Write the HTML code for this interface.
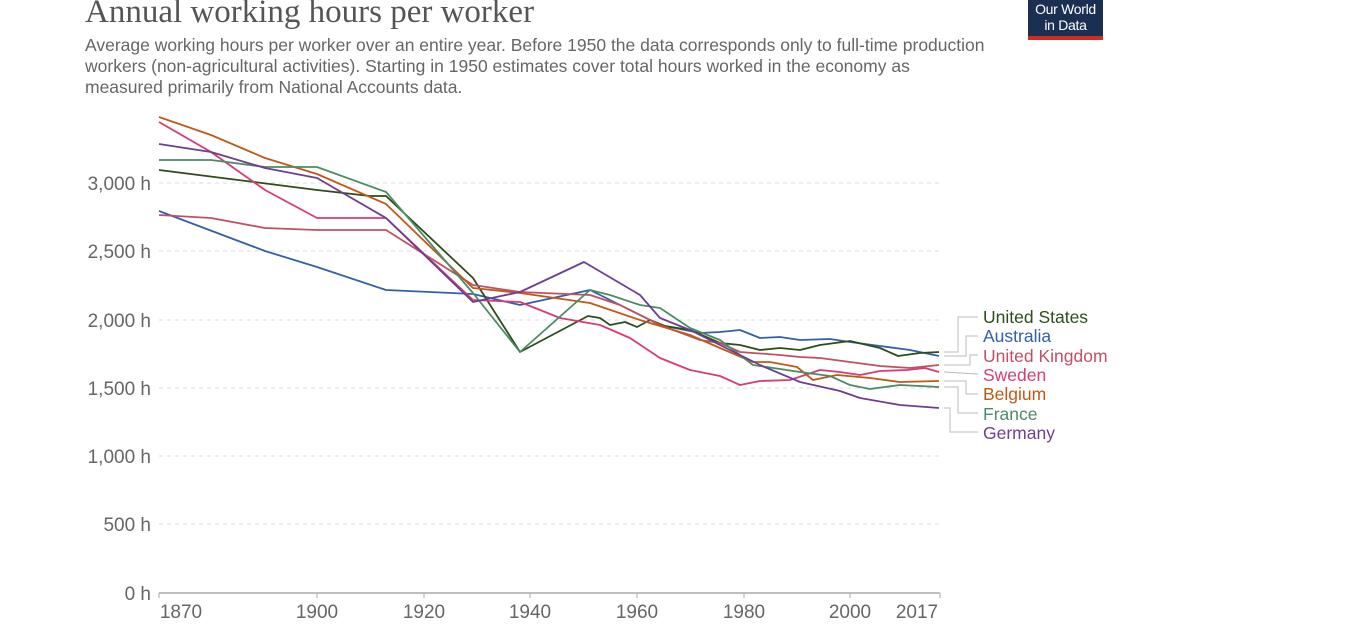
<!DOCTYPE html>
<html><head><meta charset="utf-8"><style>
html,body{margin:0;padding:0;background:#fff;}
body{width:1350px;height:624px;overflow:hidden;position:relative;font-family:"Liberation Sans",sans-serif;}
.t{position:absolute;left:85px;top:-6px;font-family:"Liberation Serif",serif;font-size:33px;color:#555;white-space:nowrap;}
.s{position:absolute;left:85px;top:35px;font-size:17.5px;line-height:21px;color:#666;width:905px;}
.logo{position:absolute;left:1028px;top:0;width:75px;height:40px;background:#1a2f52;color:#fff;font-size:14px;line-height:16px;text-align:center;border-bottom:4px solid #d42b21;box-sizing:border-box;padding-top:1px;letter-spacing:-0.3px}
</style></head><body>
<div class="t">Annual working hours per worker</div>
<div class="s">Average working hours per worker over an entire year. Before 1950 the data corresponds only to full-time production workers (non-agricultural activities). Starting in 1950 estimates cover total hours worked in the economy as measured primarily from National Accounts data.</div>
<div class="logo">Our World<br>in Data</div>
<svg width="1350" height="624" style="position:absolute;left:0;top:0" font-family="Liberation Sans, sans-serif">
<g stroke="#ddd" stroke-dasharray="4,4" stroke-width="1">
<line x1="159" x2="940" y1="183" y2="183"/><line x1="159" x2="940" y1="251" y2="251"/><line x1="159" x2="940" y1="320" y2="320"/><line x1="159" x2="940" y1="388" y2="388"/><line x1="159" x2="940" y1="456" y2="456"/><line x1="159" x2="940" y1="524" y2="524"/>
</g>
<g fill="#666" font-size="19" text-anchor="end">
<text x="151" y="190">3,000 h</text><text x="151" y="258">2,500 h</text><text x="151" y="327">2,000 h</text><text x="151" y="395">1,500 h</text><text x="151" y="463">1,000 h</text><text x="151" y="531">500 h</text><text x="151" y="600">0 h</text>
</g>
<line x1="159" x2="940" y1="593" y2="593" stroke="#aaa" stroke-width="1.5"/>
<g stroke="#aaa"><line x1="159" x2="159" y1="593" y2="598"/><line x1="317" x2="317" y1="593" y2="598"/><line x1="424" x2="424" y1="593" y2="598"/><line x1="530" x2="530" y1="593" y2="598"/><line x1="637" x2="637" y1="593" y2="598"/><line x1="744" x2="744" y1="593" y2="598"/><line x1="850" x2="850" y1="593" y2="598"/><line x1="940" x2="940" y1="593" y2="598"/></g>
<g fill="#666" font-size="19" text-anchor="middle">
<text x="181" y="618">1870</text><text x="317" y="618">1900</text><text x="424" y="618">1920</text><text x="530" y="618">1940</text><text x="637" y="618">1960</text><text x="744" y="618">1980</text><text x="850" y="618">2000</text><text x="917" y="618">2017</text>
</g>
<g fill="none" stroke-width="1.8" stroke-linejoin="round">
<polyline stroke="#3360a9" points="159,211 265,251 317,267 386,290 473,294 520,305 590,290 620,305 660,325 700,333 720,332 740,330 760,338 780,337 800,340 830,339 850,342 880,346 910,350 939,356"/>
<polyline stroke="#2d4d1a" points="159,170 317,190 370,196 386,196 473,278 520,352 588,316 600,318 610,325 625,322 637,327 650,320 665,326 690,330 720,343 740,345 760,350 780,348 800,350 820,345 850,341 880,348 898,356 920,353 939,352"/>
<polyline stroke="#c15065" points="159,215 211,218 265,228 317,230 386,230 473,285 520,292 590,295 620,305 660,325 700,340 720,343 740,352 780,355 800,357 820,358 850,362 880,366 910,368 939,365"/>
<polyline stroke="#d73c74" points="159,122 211,152 265,190 317,218 386,218 473,300 520,302 560,318 600,325 630,338 660,358 690,370 720,376 740,385 760,381 790,380 820,370 840,372 860,375 880,371 907,370 925,368 939,372"/>
<polyline stroke="#c05917" points="159,117 211,135 265,158 317,174 386,204 473,288 520,293 590,303 640,320 690,335 720,348 753,362 770,362 797,367 813,380 837,375 870,378 900,382 939,381"/>
<polyline stroke="#4c8c64" points="159,160 211,160 265,167 317,167 386,192 473,293 520,352 590,290 610,295 640,305 660,308 690,328 720,340 753,365 800,372 830,376 850,385 870,389 900,385 939,387"/>
<polyline stroke="#6d3e91" points="159,144 211,152 265,168 317,178 386,218 473,302 520,292 584,262 640,295 660,318 690,330 720,345 760,365 800,382 840,391 860,398 900,405 939,408"/>
</g>
<g fill="none" stroke="#bbb" stroke-width="1">
<polyline points="944,352 958,352 958,317 978,317"/>
<polyline points="944,356 966,356 966,336 978,336"/>
<polyline points="944,365 970,365 970,355 978,355"/>
<polyline points="944,372 978,374"/>
<polyline points="944,381 966,381 966,394 978,394"/>
<polyline points="944,387 958,387 958,413 978,413"/>
<polyline points="944,408 950,408 950,432 978,432"/>
</g>
<g font-size="17.5">
<text x="983" y="323" fill="#2d4d1a">United States</text>
<text x="983" y="342" fill="#3360a9">Australia</text>
<text x="983" y="362" fill="#c15065">United Kingdom</text>
<text x="983" y="381" fill="#d73c74">Sweden</text>
<text x="983" y="400" fill="#c05917">Belgium</text>
<text x="983" y="420" fill="#4c8c64">France</text>
<text x="983" y="439" fill="#6d3e91">Germany</text>
</g>
</svg>
</body></html>
